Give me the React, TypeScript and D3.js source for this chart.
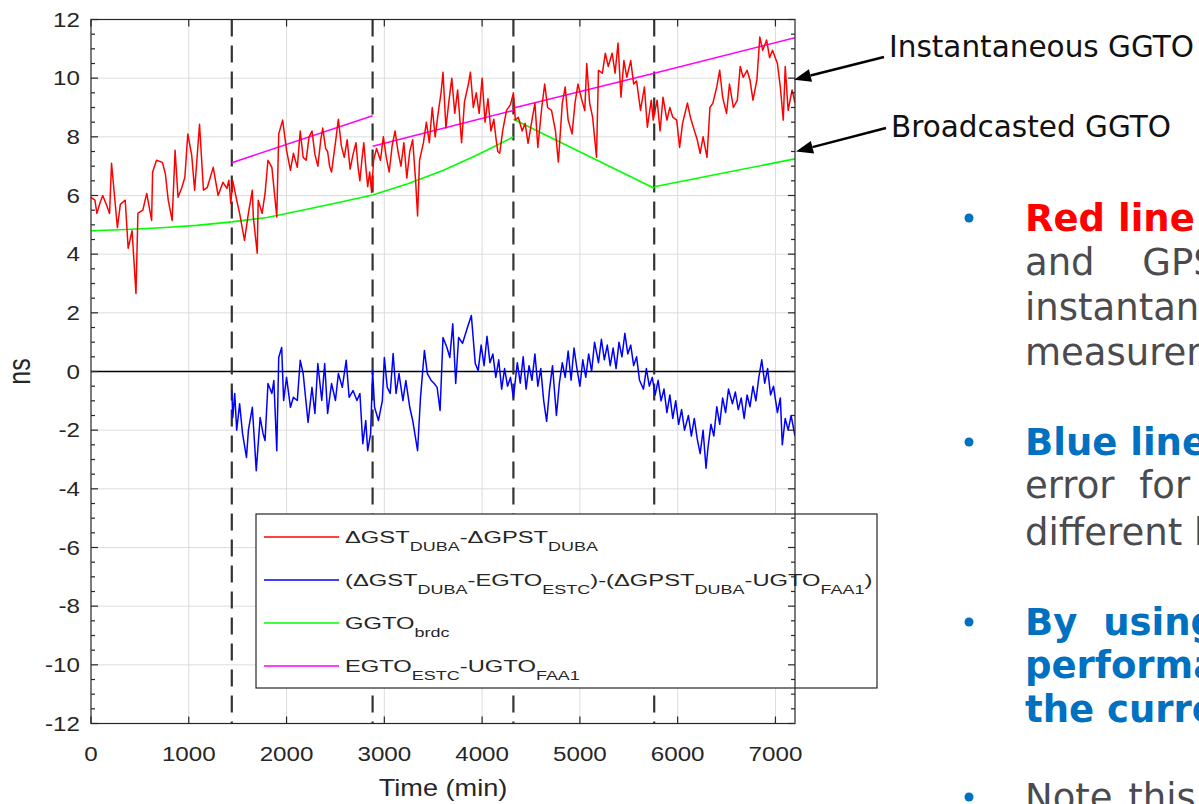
import React from 'react';
import * as d3 from 'd3';

// ---------- data ----------
const X_DOMAIN: [number, number] = [0, 7200];
const Y_DOMAIN: [number, number] = [-12, 12];
const X_TICKS = [0, 1000, 2000, 3000, 4000, 5000, 6000, 7000];
const Y_TICKS = [-12, -10, -8, -6, -4, -2, 0, 2, 4, 6, 8, 10, 12];
const DAY_BOUNDARIES = [1440, 2880, 4320, 5760];

// ΔGST_DUBA - ΔGPST_DUBA  (time in min, value in ns)
const RED_SERIES: [number, number][] = [
  [0, 5.94], [40, 5.84], [60, 5.39], [90, 5.73], [120, 6.0], [160, 5.67], [190, 5.39], [210, 7.1],
  [270, 4.9], [300, 5.7], [350, 5.84], [380, 4.2], [420, 4.8], [460, 2.66], [480, 5.4], [530, 5.5],
  [570, 6.07], [620, 5.15], [630, 6.8], [670, 7.2], [730, 7.13], [760, 6.75], [790, 5.84], [830, 5.15],
  [860, 7.54], [890, 5.94], [930, 6.28], [960, 6.62], [990, 8.1], [1030, 7.37], [1060, 6.18], [1110, 8.43],
  [1150, 6.18], [1190, 6.28], [1250, 6.96], [1300, 6.0], [1350, 6.45], [1390, 6.24], [1410, 6.52], [1430, 5.73],
  [1450, 6.5], [1490, 5.84], [1520, 5.39], [1570, 4.47], [1610, 5.4], [1650, 6.18], [1660, 5.27], [1700, 4.03],
  [1710, 5.84], [1750, 5.39], [1780, 6.07], [1810, 7.2], [1850, 6.96], [1900, 5.27], [1920, 8.1], [1960, 8.57],
  [2000, 7.54], [2040, 6.86], [2070, 7.44], [2110, 6.96], [2140, 8.2], [2170, 7.3], [2200, 7.2], [2230, 8.0],
  [2260, 8.2], [2290, 7.4], [2320, 7.0], [2350, 7.9], [2370, 8.3], [2400, 7.6], [2420, 7.5], [2440, 7.0],
  [2460, 6.8], [2500, 7.8], [2530, 8.6], [2560, 7.7], [2590, 7.3], [2620, 7.9], [2650, 6.9], [2680, 7.4],
  [2710, 7.8], [2730, 7.0], [2750, 6.5], [2770, 7.2], [2790, 7.8], [2810, 7.0], [2830, 6.3], [2850, 6.8],
  [2870, 6.1], [2890, 7.2], [2920, 7.6], [2960, 7.2], [2990, 8.0], [3020, 7.3], [3050, 6.8], [3080, 7.7],
  [3110, 8.2], [3140, 7.5], [3170, 7.0], [3200, 7.8], [3230, 6.6], [3260, 7.5], [3290, 7.9], [3320, 6.5],
  [3340, 5.3], [3360, 7.2], [3400, 7.8], [3430, 8.5], [3460, 7.8], [3490, 9.0], [3520, 8.0], [3550, 8.8],
  [3580, 9.5], [3600, 10.2], [3630, 8.3], [3660, 9.2], [3690, 10.0], [3720, 8.8], [3750, 9.6], [3790, 7.8],
  [3820, 9.2], [3860, 9.8], [3880, 10.2], [3910, 9.0], [3940, 9.5], [3970, 8.8], [4000, 10.0], [4030, 8.5],
  [4060, 9.3], [4090, 8.2], [4120, 8.6], [4140, 8.0], [4160, 7.5], [4180, 7.44], [4210, 8.2], [4250, 8.9],
  [4290, 9.1], [4320, 9.5], [4340, 8.57], [4370, 8.67], [4410, 8.2], [4440, 8.46], [4470, 7.78], [4510, 8.57],
  [4540, 9.15], [4570, 7.64], [4610, 9.0], [4640, 9.8], [4670, 9.0], [4710, 8.9], [4750, 8.2], [4780, 7.14],
  [4820, 9.15], [4850, 9.7], [4880, 8.57], [4920, 8.1], [4950, 9.15], [4980, 9.8], [5020, 9.25], [5050, 8.9],
  [5070, 10.5], [5100, 9.15], [5130, 8.67], [5170, 7.3], [5190, 10.27], [5230, 10.17], [5260, 10.85], [5290, 10.4],
  [5330, 10.85], [5360, 10.17], [5390, 11.2], [5420, 9.35], [5450, 10.6], [5480, 10.03], [5520, 10.6], [5550, 9.8],
  [5580, 9.9], [5620, 8.9], [5660, 9.7], [5690, 8.33], [5730, 9.25], [5750, 8.57], [5790, 9.25], [5820, 8.2],
  [5850, 9.35], [5890, 8.57], [5920, 9.0], [5950, 8.67], [5990, 8.57], [6020, 7.64], [6050, 8.46], [6100, 9.15],
  [6130, 8.67], [6160, 8.33], [6200, 7.9], [6230, 7.44], [6260, 8.0], [6300, 7.3], [6330, 9.0], [6360, 9.15],
  [6400, 9.7], [6430, 10.27], [6460, 9.35], [6500, 8.8], [6530, 9.8], [6570, 9.0], [6610, 9.25], [6640, 10.4],
  [6670, 10.03], [6710, 10.27], [6740, 9.93], [6770, 9.25], [6810, 9.93], [6840, 11.4], [6870, 10.95], [6910, 11.3],
  [6940, 10.7], [6970, 10.95], [7020, 10.5], [7050, 9.7], [7080, 8.57], [7100, 10.4], [7130, 8.9], [7170, 9.6],
  [7200, 9.15],
];

// (ΔGST_DUBA-EGTO_ESTC)-(ΔGPST_DUBA-UGTO_FAA1)
const BLUE_SERIES: [number, number][] = [
  [1440, -0.65], [1450, -1.57], [1470, -0.75], [1490, -2.0], [1520, -1.1], [1550, -2.12], [1590, -2.93], [1610, -2.0],
  [1650, -1.22], [1690, -3.38], [1730, -1.57], [1760, -2.12], [1780, -2.35], [1810, -0.41], [1850, -0.75], [1870, -0.31],
  [1900, -2.7], [1920, 0.48], [1950, 0.82], [1970, -0.99], [2000, -0.2], [2040, -1.22], [2070, -0.88], [2110, -0.99],
  [2140, 0.38], [2170, -0.07], [2220, -1.74], [2260, -0.54], [2290, -1.43], [2320, 0.27], [2360, -0.99], [2390, 0.27],
  [2420, -1.43], [2460, -0.41], [2500, -0.99], [2530, -0.07], [2570, -0.54], [2610, 0.38], [2640, -0.88], [2680, -0.65],
  [2720, -0.99], [2750, -0.75], [2780, -2.46], [2810, -1.67], [2830, -2.7], [2860, -2.12], [2880, 0.03], [2900, -1.22],
  [2940, -1.67], [2980, -0.99], [3000, 0.48], [3030, -0.54], [3060, -0.75], [3090, 0.61], [3120, -0.75], [3150, -0.07],
  [3190, -0.99], [3220, -0.31], [3260, -1.22], [3290, -1.67], [3340, -2.7], [3370, -0.88], [3410, 0.72], [3440, -0.07],
  [3480, -0.31], [3510, -0.41], [3540, -0.54], [3570, -1.33], [3600, 1.16], [3640, 0.82], [3670, 0.48], [3700, 1.63],
  [3730, -0.41], [3760, 1.16], [3800, 0.96], [3850, 1.5], [3890, 1.91], [3930, 0.27], [3960, 0.03], [3990, 0.9],
  [4020, 0.2], [4050, 1.2], [4080, 0.3], [4110, 0.6], [4140, -0.2], [4170, 0.4], [4200, -0.6], [4230, 0.1],
  [4260, -0.5], [4290, -0.2], [4320, -0.9], [4360, 0.3], [4390, -0.4], [4420, 0.5], [4450, -0.6], [4480, 0.2],
  [4510, -0.3], [4540, 0.6], [4570, -0.5], [4600, 0.1], [4630, -1.0], [4660, -1.7], [4690, -0.6], [4720, 0.2],
  [4760, -1.5], [4790, -0.4], [4820, 0.3], [4850, -0.2], [4880, 0.7], [4910, -0.3], [4940, 0.8], [4970, 0.1],
  [5000, -0.5], [5030, 0.4], [5060, -0.2], [5090, 0.6], [5120, 0.0], [5150, 1.0], [5190, 0.3], [5220, 1.1],
  [5250, 0.4], [5280, 0.9], [5310, 0.2], [5340, 0.8], [5370, 0.1], [5400, 1.0], [5430, 0.5], [5460, 1.3],
  [5490, 0.6], [5520, 0.9], [5550, 0.2], [5580, 0.5], [5610, -0.3], [5650, -0.6], [5680, 0.1], [5710, -0.5],
  [5740, -0.2], [5770, -0.8], [5800, -0.3], [5830, -1.0], [5860, -0.6], [5890, -1.4], [5920, -0.8], [5950, -1.6],
  [5980, -1.0], [6010, -1.8], [6040, -1.3], [6070, -2.0], [6110, -1.5], [6140, -2.2], [6170, -1.6], [6200, -2.3],
  [6230, -2.8], [6260, -2.0], [6290, -3.3], [6310, -2.6], [6340, -1.8], [6370, -2.2], [6400, -1.2], [6430, -1.8],
  [6460, -0.9], [6490, -1.4], [6520, -0.6], [6560, -1.1], [6590, -0.7], [6620, -1.3], [6650, -0.9], [6680, -1.6],
  [6710, -0.8], [6740, -1.2], [6770, -0.5], [6800, -1.0], [6830, -0.2], [6860, 0.4], [6890, -0.4], [6920, 0.1],
  [6950, -0.8], [6980, -0.5], [7020, -1.4], [7050, -0.9], [7070, -2.5], [7100, -1.6], [7130, -2.0], [7160, -1.5],
  [7200, -2.2],
];

// GGTO_brdc (one segment per day)
const GREEN_SEGMENTS: [number, number][][] = [
  [[0, 4.8], [360, 4.84], [720, 4.9], [1080, 4.98], [1440, 5.1]],
  [[1440, 5.1], [1800, 5.25], [2160, 5.5], [2520, 5.75], [2880, 6.02]],
  [[2880, 6.02], [3240, 6.4], [3600, 6.85], [3960, 7.4], [4320, 8.0]],
  [[4320, 8.6], [5760, 6.25]],
  [[5760, 6.3], [7200, 7.25]],
];

// EGTO_ESTC - UGTO_FAA1 (one segment per day)
const MAGENTA_SEGMENTS: [number, number][][] = [
  [[1440, 7.12], [2880, 8.72]],
  [[2880, 7.68], [4320, 8.9]],
  [[4320, 8.98], [5760, 10.17]],
  [[5760, 10.17], [7200, 11.38]],
];

type Part = { t: string; sub?: boolean };
const LEGEND_ENTRIES: { color: string; parts: Part[] }[] = [
  { color: '#ff0000', parts: [{ t: 'ΔGST' }, { t: 'DUBA', sub: true }, { t: '-ΔGPST' }, { t: 'DUBA', sub: true }] },
  {
    color: '#0000ff',
    parts: [
      { t: '(ΔGST' }, { t: 'DUBA', sub: true }, { t: '-EGTO' }, { t: 'ESTC', sub: true },
      { t: ')-(ΔGPST' }, { t: 'DUBA', sub: true }, { t: '-UGTO' }, { t: 'FAA1', sub: true }, { t: ')' },
    ],
  },
  { color: '#00ff00', parts: [{ t: 'GGTO' }, { t: 'brdc', sub: true }] },
  { color: '#ff00ff', parts: [{ t: 'EGTO' }, { t: 'ESTC', sub: true }, { t: '-UGTO' }, { t: 'FAA1', sub: true }] },
];

const ANNOTATIONS = [
  { label: 'Instantaneous GGTO', value: 9.95 },
  { label: 'Broadcasted GGTO', value: 7.5 },
];

type SlideKind = 'red' | 'blue' | 'body';
const SLIDE_LINES: { text: string; kind: SlideKind; bullet?: boolean; spacing?: number }[] = [
  { text: 'Red line', kind: 'red', bullet: true },
  { text: 'and GPS', kind: 'body', spacing: 36 },
  { text: 'instantaneous', kind: 'body' },
  { text: 'measurements', kind: 'body' },
  { text: 'Blue line', kind: 'blue', bullet: true },
  { text: 'error for the', kind: 'body', spacing: 13 },
  { text: 'different baselines', kind: 'body' },
  { text: 'By using', kind: 'blue', bullet: true, spacing: 13 },
  { text: 'performance', kind: 'blue' },
  { text: 'the current', kind: 'blue' },
  { text: 'Note this', kind: 'body', bullet: true, spacing: 4 },
];
const SLIDE_BASELINES = [231, 275, 320, 365, 455, 498, 545, 635, 678, 722, 810];

// ---------- component ----------
const CHART_FONT = '"Liberation Sans", Arial, Helvetica, sans-serif';
const SLIDE_FONT = '"DejaVu Sans", Verdana, sans-serif';
const AX = '#262626';

export default function App() {
  const W = 1199;
  const H = 804;
  const left = 91, right = 795, top = 19.5, bottom = 723.5;
  const x = d3.scaleLinear().domain(X_DOMAIN).range([left, right]);
  const y = d3.scaleLinear().domain(Y_DOMAIN).range([bottom, top]);
  const line = d3.line<[number, number]>().x(d => x(d[0])).y(d => y(d[1]));

  const minorY = d3.range(Y_DOMAIN[0], Y_DOMAIN[1] + 0.01, 0.5).filter(v => Math.abs(v / 2 - Math.round(v / 2)) > 1e-6);

  const tickStretch = 1.24;
  const legendStretch = 1.44;

  // legend geometry
  const lgX = 256, lgY = 514, lgW = 621, lgH = 174;
  const lgRow0 = 537, lgRowStep = 43;

  const slideColor = (k: SlideKind) => (k === 'red' ? '#ff0000' : k === 'blue' ? '#0070c0' : '#4b4b4f');

  return (
    <svg
      width={W}
      height={H}
      viewBox={`0 0 ${W} ${H}`}
      style={{ position: 'absolute', left: 0, top: 0, background: '#ffffff', overflow: 'hidden' }}
    >
      <defs>
        <clipPath id="plotClip">
          <rect x={left} y={top} width={right - left} height={bottom - top} />
        </clipPath>
      </defs>
      <rect x={0} y={0} width={W} height={H} fill="#ffffff" />

      {/* grid */}
      <g stroke="#dcdcdc" strokeWidth={1}>
        {X_TICKS.filter(t => t > 0).map(t => (
          <line key={'gx' + t} x1={x(t)} x2={x(t)} y1={top} y2={bottom} />
        ))}
        {Y_TICKS.filter(t => t > Y_DOMAIN[0] && t < Y_DOMAIN[1]).map(t => (
          <line key={'gy' + t} x1={left} x2={right} y1={y(t)} y2={y(t)} />
        ))}
      </g>

      {/* data */}
      <g clipPath="url(#plotClip)" fill="none">
        <line x1={x(X_DOMAIN[0])} x2={x(X_DOMAIN[1])} y1={y(0)} y2={y(0)} stroke="#000" strokeWidth={1.6} />
        {DAY_BOUNDARIES.map(t => (
          <line key={'d' + t} x1={x(t)} x2={x(t)} y1={top} y2={bottom} stroke="#333" strokeWidth={2.2} strokeDasharray="17,9" />
        ))}
        {GREEN_SEGMENTS.map((s, i) => (
          <path key={'g' + i} d={line(s) || ''} stroke="#00ff00" strokeWidth={1.6} />
        ))}
        {MAGENTA_SEGMENTS.map((s, i) => (
          <path key={'m' + i} d={line(s) || ''} stroke="#ff00ff" strokeWidth={1.6} />
        ))}
        <path d={line(RED_SERIES) || ''} stroke="#ff0000" strokeWidth={1.5} strokeLinejoin="round" />
        <path d={line(BLUE_SERIES) || ''} stroke="#0000ff" strokeWidth={1.5} strokeLinejoin="round" />
      </g>

      {/* legend */}
      <g>
        <rect x={lgX} y={lgY} width={lgW} height={lgH} fill="#ffffff" stroke={AX} strokeWidth={1.2} />
        {LEGEND_ENTRIES.map((e, i) => {
          const cy = lgRow0 + i * lgRowStep;
          let prevSub = false;
          return (
            <g key={'lg' + i}>
              <line x1={264} x2={339} y1={cy} y2={cy} stroke={e.color} strokeWidth={1.5} />
              <g transform={`translate(345,${cy + 6}) scale(${legendStretch},1)`}>
                <text x={0} y={0} fontFamily={CHART_FONT} fontSize={16.5} fill={AX}>
                  {e.parts.map((p, j) => {
                    const dy = p.sub && !prevSub ? 8 : !p.sub && prevSub ? -8 : 0;
                    prevSub = !!p.sub;
                    return (
                      <tspan key={j} dy={dy} fontSize={p.sub ? 12.5 : 16.5}>
                        {p.t}
                      </tspan>
                    );
                  })}
                </text>
              </g>
            </g>
          );
        })}
      </g>

      {/* axes box and ticks */}
      <g stroke={AX} strokeWidth={1.2} fill="none">
        <rect x={left} y={top} width={right - left} height={bottom - top} />
        {X_TICKS.map(t => (
          <g key={'tx' + t}>
            <line x1={x(t)} x2={x(t)} y1={bottom} y2={bottom - 7} />
            <line x1={x(t)} x2={x(t)} y1={top} y2={top + 7} />
          </g>
        ))}
        {Y_TICKS.map(t => (
          <g key={'ty' + t}>
            <line x1={left} x2={left + 7} y1={y(t)} y2={y(t)} />
            <line x1={right} x2={right - 7} y1={y(t)} y2={y(t)} />
          </g>
        ))}
        {minorY.map(t => (
          <g key={'my' + t}>
            <line x1={left} x2={left + 4} y1={y(t)} y2={y(t)} />
            <line x1={right} x2={right - 4} y1={y(t)} y2={y(t)} />
          </g>
        ))}
      </g>

      {/* tick labels */}
      <g fontFamily={CHART_FONT} fontSize={19.5} fill={AX}>
        {X_TICKS.map(t => (
          <g key={'lx' + t} transform={`translate(${x(t)},761) scale(${tickStretch},1)`}>
            <text textAnchor="middle">{t}</text>
          </g>
        ))}
        {Y_TICKS.map(t => (
          <g key={'ly' + t} transform={`translate(80,${y(t) + 7}) scale(${tickStretch},1)`}>
            <text textAnchor="end">{t}</text>
          </g>
        ))}
      </g>

      {/* axis labels */}
      <g transform={`translate(${(left + right) / 2},796) scale(1.18,1)`}>
        <text textAnchor="middle" fontFamily={CHART_FONT} fontSize={23} fill={AX}>
          Time (min)
        </text>
      </g>
      <g transform={`translate(30,${y(0)}) scale(1.25,1) rotate(-90)`}>
        <text textAnchor="middle" fontFamily={CHART_FONT} fontSize={25} fill={AX}>
          ns
        </text>
      </g>

      {/* annotations */}
      {ANNOTATIONS.map((a, i) => {
        const tipX = x(X_DOMAIN[1]) - 1 + i * 2;
        const tipY = y(a.value);
        const sx = 884 + i * 2;
        const sy = i === 0 ? 57 : 128;
        const ang = Math.atan2(sy - tipY, sx - tipX);
        const L = 17, hw = 6.5;
        const bx = tipX + L * Math.cos(ang), by = tipY + L * Math.sin(ang);
        const px = -Math.sin(ang), py = Math.cos(ang);
        return (
          <g key={'an' + i}>
            <line x1={sx} y1={sy} x2={bx} y2={by} stroke="#000" strokeWidth={2.4} />
            <polygon
              points={`${tipX},${tipY} ${bx + px * hw},${by + py * hw} ${bx - px * hw},${by - py * hw}`}
              fill="#000"
            />
            <text x={sx + 5} y={i === 0 ? 57 : 137} fontFamily={SLIDE_FONT} fontSize={29.5} fill="#111">
              {a.label}
            </text>
          </g>
        );
      })}

      {/* slide text */}
      <g fontFamily={SLIDE_FONT} fontSize={37}>
        {SLIDE_LINES.map((l, i) => (
          <g key={'sl' + i}>
            {l.bullet && <circle cx={969} cy={SLIDE_BASELINES[i] - 13} r={4.5} fill="#0070c0" />}
            <text
              x={1025}
              y={SLIDE_BASELINES[i]}
              fill={slideColor(l.kind)}
              fontWeight={l.kind === 'body' ? 'normal' : 'bold'}
              style={{ wordSpacing: l.spacing ? `${l.spacing}px` : undefined }}
            >
              {l.text}
            </text>
          </g>
        ))}
      </g>
    </svg>
  );
}
